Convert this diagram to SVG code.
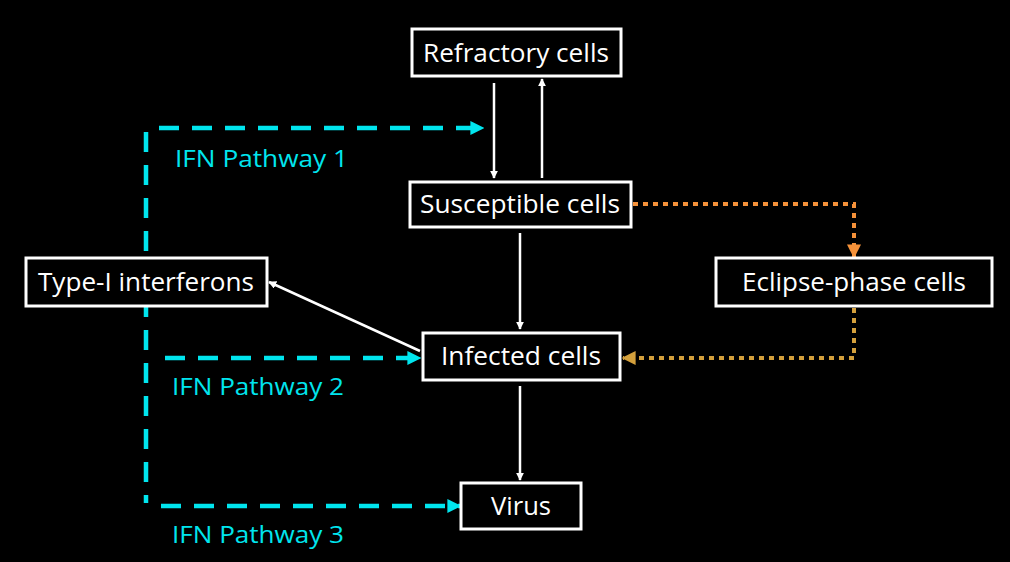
<svg xmlns="http://www.w3.org/2000/svg" width="1010" height="562" viewBox="0 0 1010 562">
<style>
.box{fill:#000;stroke:#fff;stroke-width:3}
.lbl{font-family:"Open Sans","Liberation Sans",sans-serif;font-size:25px;fill:#fff;text-anchor:middle}
.ifn{font-family:"Open Sans","Liberation Sans",sans-serif;font-size:24px;fill:#00e5ee}
.w{stroke:#fff;stroke-width:2.5;fill:none}
.cy{stroke:#00e5ee;stroke-width:4.5;fill:none;stroke-dasharray:20 13}
.or{stroke:#f5923a;stroke-width:4;fill:none;stroke-dasharray:5 5}
.gd{stroke:#d4a03c;stroke-width:4;fill:none;stroke-dasharray:5 5}
</style>
<defs>
<marker id="aw" viewBox="0 0 10 10" refX="9" refY="5" markerWidth="8" markerHeight="8" orient="auto" markerUnits="userSpaceOnUse"><path d="M0,0 L10,5 L0,10 z" fill="#fff"/></marker>
<marker id="ac" viewBox="0 0 10 10" refX="9" refY="5" markerWidth="14" markerHeight="14" orient="auto" markerUnits="userSpaceOnUse"><path d="M0,0 L10,5 L0,10 z" fill="#00e5ee"/></marker>
<marker id="ao" viewBox="0 0 10 10" refX="9" refY="5" markerWidth="14" markerHeight="14" orient="auto" markerUnits="userSpaceOnUse"><path d="M0,0 L10,5 L0,10 z" fill="#f5923a"/></marker>
<marker id="ag" viewBox="0 0 10 10" refX="9" refY="5" markerWidth="14" markerHeight="14" orient="auto" markerUnits="userSpaceOnUse"><path d="M0,0 L10,5 L0,10 z" fill="#d4a03c"/></marker>
</defs>
<rect width="1010" height="562" fill="#000"/>
<g id="connectors">
<line class="w" x1="494" y1="83" x2="494" y2="178" marker-end="url(#aw)"/>
<line class="w" x1="542" y1="178" x2="542" y2="79" marker-end="url(#aw)"/>
<line class="w" x1="520" y1="233" x2="520" y2="329" marker-end="url(#aw)"/>
<line class="w" x1="520" y1="386" x2="520" y2="480" marker-end="url(#aw)"/>
<line class="w" x1="420" y1="351" x2="269" y2="282" marker-end="url(#aw)"/>
<path class="cy" d="M146,132 V503"/>
<line class="cy" x1="159" y1="128" x2="483" y2="128" marker-end="url(#ac)"/>
<line class="cy" x1="165" y1="358" x2="420" y2="358" marker-end="url(#ac)"/>
<line class="cy" x1="161" y1="506" x2="460" y2="506" marker-end="url(#ac)"/>
<path class="or" d="M633,204 H854 V257" marker-end="url(#ao)"/>
<path class="gd" d="M854,308 V358 H623" marker-end="url(#ag)"/>
</g>
<g id="refractory"><rect class="box" x="412" y="29" width="209" height="47"/><text class="lbl" x="516" y="62" textLength="186" lengthAdjust="spacingAndGlyphs">Refractory cells</text></g>
<g id="susceptible"><rect class="box" x="410" y="182" width="221" height="45"/><text class="lbl" x="520" y="213" textLength="200" lengthAdjust="spacingAndGlyphs">Susceptible cells</text></g>
<g id="interferons"><rect class="box" x="26" y="258" width="241" height="48"/><text class="lbl" x="146" y="291" textLength="216" lengthAdjust="spacingAndGlyphs">Type-I interferons</text></g>
<g id="infected"><rect class="box" x="423" y="333" width="197" height="47"/><text class="lbl" x="521" y="365" textLength="160" lengthAdjust="spacingAndGlyphs">Infected cells</text></g>
<g id="eclipse"><rect class="box" x="716" y="258" width="276" height="48"/><text class="lbl" x="854" y="291" textLength="224" lengthAdjust="spacingAndGlyphs">Eclipse-phase cells</text></g>
<g id="virus"><rect class="box" x="461" y="483" width="120" height="46"/><text class="lbl" x="521" y="515" textLength="60" lengthAdjust="spacingAndGlyphs">Virus</text></g>
<g id="labels">
<text class="ifn" x="175" y="167" textLength="173" lengthAdjust="spacingAndGlyphs">IFN Pathway 1</text>
<text class="ifn" x="172" y="395" textLength="172" lengthAdjust="spacingAndGlyphs">IFN Pathway 2</text>
<text class="ifn" x="172" y="543" textLength="172" lengthAdjust="spacingAndGlyphs">IFN Pathway 3</text>
</g>
</svg>
